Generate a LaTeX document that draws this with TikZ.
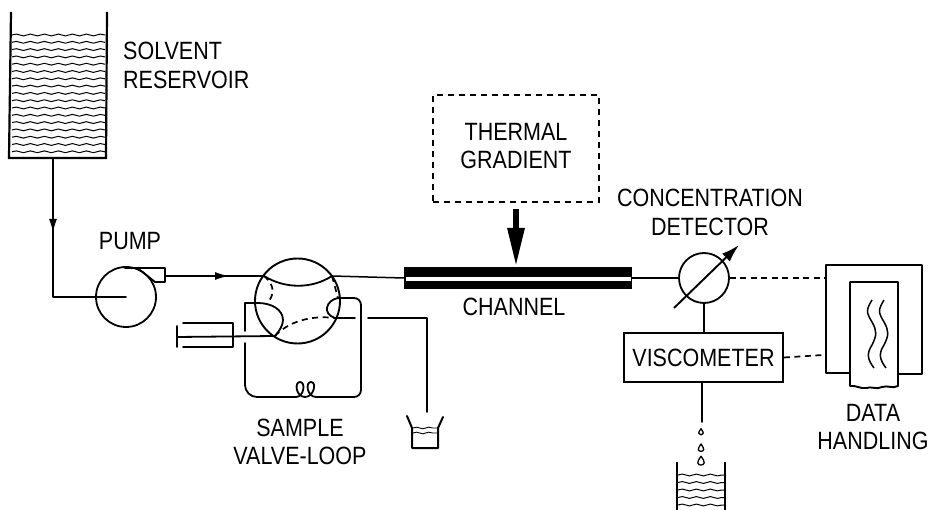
\documentclass[tikz,border=0pt]{standalone}
\usepackage{fontspec}
\setmainfont[FakeStretch=0.86]{Liberation Sans}
\usetikzlibrary{arrows.meta,decorations.pathmorphing}
\newcommand{\tear}[3]{\draw[line width=1.3pt,line join=round] (#1,#2-1.05*#3) .. controls (#1+0.5*#3,#2-0.3*#3) and (#1+0.75*#3,#2+0.1*#3) .. (#1+0.7*#3,#2+0.4*#3) .. controls (#1+0.55*#3,#2+1.05*#3) and (#1-0.55*#3,#2+1.05*#3) .. (#1-0.7*#3,#2+0.4*#3) .. controls (#1-0.75*#3,#2+0.1*#3) and (#1-0.5*#3,#2-0.3*#3) .. cycle;}
\tikzset{
  x=1pt,y=-1pt,
  pipe/.style={line width=1.8pt,line cap=round,line join=round},
  wall/.style={line width=2.2pt,line join=miter},
  thin pipe/.style={line width=1.5pt,line cap=round},
  dashline/.style={line width=1.7pt,dash pattern=on 6pt off 4.5pt},
  flowtip/.style={-{Latex[length=14pt,width=8pt]}},
  water/.style={line width=1pt,decorate,decoration={snake,amplitude=0.9pt,segment length=14pt}},
  lbl/.style={inner sep=0pt,align=center,font=\fontsize{25}{28.5}\selectfont,text=black},
  unit/.style={draw,line width=1.8pt,inner sep=0pt,fill=white}
}
\begin{document}
\begin{tikzpicture}
\useasboundingbox (0,0) rectangle (929,510);
% reservoir
\coordinate (resTL) at (11,12);
\coordinate (resBL) at (9,158);
\coordinate (resBR) at (106,158);
\coordinate (resTR) at (107,12);
\draw[wall] (resTL) -- (resBL) -- (resBR) -- (resTR);
\foreach \yy in {35,42.3,...,154}{\draw[water] (12,\yy) -- (105,\yy);}
\node[lbl,anchor=west] (solvent) at (123,65.5) {\hbox to 106pt{SOLVENT\hfil}\\[0pt]\hbox to 106pt{RESERVOIR\hfil}};
% pump
\node[unit,circle,minimum size=60pt] (pump) at (126,297) {};
\node[lbl] (pumplbl) at (130,241) {PUMP};
\coordinate (resOut) at (53,158);
\coordinate (elbow) at (53,297);
\coordinate (arrowA) at (53,233);
\draw[pipe] (resOut) -- (elbow) -- (pump.center);
\draw[pipe,flowtip] (resOut) -- (arrowA);
\coordinate (pa) at (125,268);
\coordinate (pb) at (165,268);
\coordinate (pc) at (165,282);
\coordinate (pd) at (155,282);
\coordinate (pe) at (140,270);
\draw[pipe] (pa) -- (pb) -- (pc) -- (pd);
\draw[pipe] (pe) -- (pd);
% valve
\node[draw,line width=1.9pt,circle,minimum size=85pt,inner sep=0pt] (valve) at (297.5,301) {};
\coordinate (vin) at (264,276);
\coordinate (vout) at (332,276);
\coordinate (pout) at (165,276);
\coordinate (arrowB) at (229,276);
\draw[thin pipe] (pout) -- (vin);
\draw[thin pipe,flowtip] (pout) -- (arrowB);
\draw[pipe] (vin) .. controls (285,289) and (312,289) .. (vout);
\coordinate (wl) at (267,303);
\coordinate (wr) at (338,298);
\coordinate (sl) at (275,336);
\coordinate (sr) at (335,318);
\draw[dashline] (vin) .. controls (276,286) and (274,296) .. (wl);
\draw[dashline] (vout) -- (wr);
\draw[dashline] (sl) .. controls (288,322) and (310,315) .. (sr);
% solid valve arcs
\coordinate (loopL) at (245,303);
\draw[pipe] (loopL) -- (258,303) .. controls (272,303) and (283,310) .. (283,320) .. controls (283,326) and (279,331) .. (sl);
\draw[pipe] (wr) .. controls (326,300) and (322,314) .. (sr);
% loop
\coordinate (loopLg) at (245,331);
\coordinate (loopLb) at (245,343);
\coordinate (loopBL) at (245,397);
\coordinate (loopBR) at (361,397);
\coordinate (loopTR) at (361,298);
\coordinate (coilA) at (296,397);
\coordinate (coilB) at (316,397);
\draw[pipe] (loopL) -- (loopLg);
\draw[pipe,rounded corners=12pt] (loopLb) -- (loopBL) -- (coilA);
\draw[pipe] (coilA) .. controls (304,397) and (306,382) .. (300,382) .. controls (294,382) and (296,397) .. (305,397) .. controls (314,397) and (317,382) .. (311,382) .. controls (305,382) and (307,397) .. (coilB);
\draw[pipe,rounded corners=7pt] (coilB) -- (loopBR) -- (loopTR) -- (wr);
% syringe
\coordinate (syA) at (183,323);
\coordinate (syB) at (233,323);
\coordinate (syC) at (233,347);
\coordinate (syD) at (183,347);
\coordinate (plT) at (177,326);
\coordinate (plB) at (177,347);
\coordinate (plM) at (177,337);
\draw[pipe] (syA) -- (syB) -- (syC) -- (syD);
\draw[pipe] (plT) -- (plB);
\draw[pipe] (plM) -- (sl);
% waste line
\coordinate (wa) at (355,318);
\coordinate (wb) at (368,318);
\coordinate (wc) at (427,318);
\coordinate (wd) at (427,412);
\draw[pipe] (sr) -- (wa);
\draw[pipe] (wb) -- (wc) -- (wd);
% small beaker
\draw[pipe,line width=2pt] (407,416) -- (412,428) -- (412,448) -- (438,448) -- (438,428) -- (443,417);
\draw[line width=0.9pt,decorate,decoration={snake,amplitude=0.8pt,segment length=12pt}] (413,428) -- (437,428);
\draw[line width=0.9pt,decorate,decoration={snake,amplitude=0.8pt,segment length=12pt}] (413,433) -- (437,433);
\node[lbl] (sample) at (300,442) {SAMPLE\\VALVE-LOOP};
% channel
\node[fill=black,minimum width=228pt,minimum height=22pt,inner sep=0pt] (channel) at (518,278) {};
\node[fill=white,minimum width=225pt,minimum height=4.5pt,inner sep=0pt] (slot) at (518,279) {};
\draw[thin pipe] (vout) -- (channel.west);
\node[lbl] (chlbl) at (514,307) {CHANNEL};
% thermal
\node[draw,line width=1.3pt,dash pattern=on 6pt off 5pt,minimum width=166pt,minimum height=107pt,inner sep=0pt] (thermal) at (516,148.5) {};
\node[lbl] (thlbl) at (516,146) {THERMAL\\GRADIENT};
\coordinate (hs) at (516,209);
\draw[line width=6pt,-{Triangle[length=39pt,width=16pt]}] (hs) -- (hs |- channel.north);
% detector
\node[unit,circle,minimum size=50pt] (det) at (704,278) {};
\coordinate (da) at (674,308);
\coordinate (db) at (739,245);
\draw[line width=1.9pt,-{Latex[length=18pt,width=11pt]}] (da) -- (db);
\draw[thin pipe] (channel.east) -- (det.west);
\node[lbl] (detlbl) at (710,212.5) {CONCENTRATION\\DETECTOR};
% viscometer
\node[unit,minimum width=159pt,minimum height=49pt] (visc) at (703.5,357.5) {};
\node[lbl] (visclbl) at (703.5,357.5) {VISCOMETER};
\draw[pipe] (det.south) -- (det.south |- visc.north);
\coordinate (vd) at (702,422);
\draw[pipe] (vd |- visc.south) -- (vd);
\tear{701}{432}{3.2}
\tear{701}{448}{3.8}
\tear{701}{461}{4.6}
% collector
\draw[wall] (677,462) -- (677,510);
\draw[wall] (725,462) -- (725,510);
\foreach \yy in {475,482.5,490,497.5,505}{\draw[water] (678,\yy) -- (724,\yy);}
% data handling
\coordinate (oTL) at (826,265);
\coordinate (oTR) at (922,265);
\coordinate (oBL) at (826,373);
\coordinate (oBR) at (922,374);
\coordinate (iL) at (850,373);
\coordinate (iR) at (898,374);
\coordinate (iTL) at (850,282);
\coordinate (iTR) at (898,282);
\draw[pipe,line width=1.9pt] (iL) -- (oBL) -- (oTL) -- (oTR) -- (oBR) -- (iR);
\draw[pipe,line width=1.9pt] (850,386) -- (iTL) -- (iTR) -- (898,386) .. controls (892,389) and (888,385) .. (882,387) .. controls (876,390) and (872,386) .. (866,388) .. controls (860,389) and (856,385) .. (850,386);
\draw[line width=1.5pt] (872,300) .. controls (866,310) and (866,312) .. (872,322) .. controls (877,331) and (877,335) .. (872,345) .. controls (866,354) and (868,360) .. (874,368);
\draw[line width=1.5pt] (884,300) .. controls (878,310) and (878,312) .. (884,322) .. controls (889,331) and (889,335) .. (884,345) .. controls (878,354) and (880,360) .. (886,368);
\coordinate (dq) at (827,278);
\coordinate (dv) at (823,355);
\draw[dashline] (det.east) -- (dq);
\draw[dashline] (visc.east) -- (dv);
\node[lbl] (data) at (873,427) {DATA\\HANDLING};
\end{tikzpicture}
\end{document}
